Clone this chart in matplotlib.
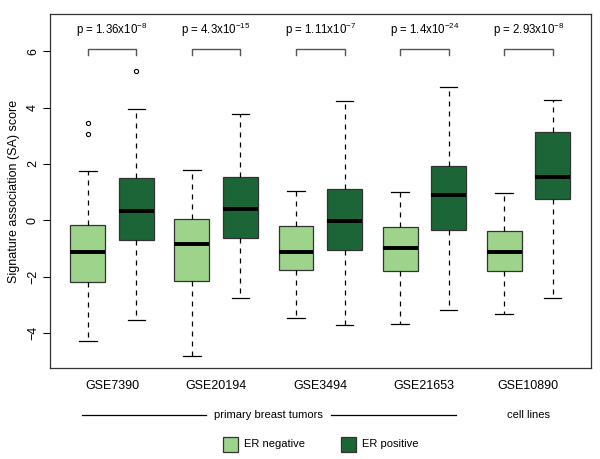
import matplotlib
matplotlib.use("Agg")
import matplotlib.pyplot as plt
from matplotlib.patches import Rectangle
from matplotlib.lines import Line2D
import matplotlib.transforms as mtransforms

plt.rcParams['font.family'] = ['Liberation Sans', 'DejaVu Sans']

datasets = ["GSE7390", "GSE20194", "GSE3494", "GSE21653", "GSE10890"]
p_mant = ["1.36", "4.3", "1.11", "1.4", "2.93"]
p_exp = ["-8", "-15", "-7", "-24", "-8"]

# ER negative stats
neg_whislo = [-4.28, -4.83, -3.48, -3.67, -3.32]
neg_q1     = [-2.20, -2.17, -1.78, -1.80, -1.81]
neg_med    = [-1.11, -0.83, -1.11, -0.97, -1.14]
neg_q3     = [-0.18, 0.06, -0.20, -0.25, -0.39]
neg_whishi = [1.75, 1.80, 1.05, 1.02, 0.98]
neg_fliers = [[3.47, 3.08], [], [], [], []]

# ER positive stats
pos_whislo = [-3.54, -2.75, -3.71, -3.19, -2.76]
pos_q1     = [-0.71, -0.64, -1.07, -0.36, 0.75]
pos_med    = [0.33, 0.40, -0.02, 0.91, 1.54]
pos_q3     = [1.51, 1.53, 1.12, 1.92, 3.14]
pos_whishi = [3.97, 3.78, 4.24, 4.75, 4.28]
pos_fliers = [[5.29], [], [], [], []]

light = "#9dd38b"
dark = "#1b6537"

fig = plt.figure(figsize=(6.0, 4.59), dpi=100)
ax = fig.add_axes([50/600, 1-368/459, (591-50)/600, (368-14)/459])

gap = 2.145
neg_pos = [1 + gap*i for i in range(5)]
pos_pos = [2 + gap*i for i in range(5)]

def mk(wl, q1, med, q3, wh, fl):
    return [dict(whislo=a, q1=b, med=c, q3=d, whishi=e, fliers=f)
            for a, b, c, d, e, f in zip(wl, q1, med, q3, wh, fl)]

common = dict(widths=0.72, patch_artist=True, showfliers=True,
              whiskerprops=dict(linestyle=(0, (4, 4)), color='black', linewidth=0.9),
              capprops=dict(color='black', linewidth=0.9),
              medianprops=dict(color='black', linewidth=2.8, solid_capstyle='butt'),
              flierprops=dict(marker='o', markersize=3, markerfacecolor='none',
                              markeredgecolor='black', markeredgewidth=0.8))
capw = 0.36

b1 = ax.bxp(mk(neg_whislo, neg_q1, neg_med, neg_q3, neg_whishi, neg_fliers),
            positions=neg_pos,
            boxprops=dict(facecolor=light, edgecolor='#333333', linewidth=0.9),
            capwidths=capw, **common)
b2 = ax.bxp(mk(pos_whislo, pos_q1, pos_med, pos_q3, pos_whishi, pos_fliers),
            positions=pos_pos,
            boxprops=dict(facecolor=dark, edgecolor='#333333', linewidth=0.9),
            capwidths=capw, **common)

ax.set_xlim(0.22, 11.37)
ax.set_ylim(-5.25, 7.33)
ax.set_yticks([-4, -2, 0, 2, 4, 6])
ax.set_yticklabels(['−4', '−2', '0', '2', '4', '6'], rotation=90, va='center', fontsize=9)
ax.tick_params(axis='y', length=5, width=0.8, pad=3)
ax.set_xticks([])
for s in ax.spines.values():
    s.set_linewidth(0.9)
    s.set_color('#333333')
ax.set_ylabel("Signature association (SA) score", fontsize=9, labelpad=5)

# p-value brackets
for i in range(5):
    x0, x1 = neg_pos[i], pos_pos[i]
    ax.plot([x0, x0, x1, x1], [5.87, 6.07, 6.07, 5.87], color='#555555', lw=1.0)
    ax.text((x0 + x1) / 2, 6.62, r"p = %s$\mathregular{x10^{%s}}$" % (p_mant[i], p_exp[i].replace('-', '−')),
            ha='center', va='baseline', fontsize=8.3)

# dataset labels
trans = mtransforms.blended_transform_factory(ax.transData, fig.transFigure)
for i in range(5):
    ax.text((neg_pos[i] + pos_pos[i]) / 2, 1 - 385.7/459, datasets[i], transform=trans,
            ha='center', va='center', fontsize=9, clip_on=False)

# group annotation
yg = 1 - 415/459
fig.add_artist(Line2D([81.7/600, 206/600], [yg, yg], color='black', lw=0.9))
fig.add_artist(Line2D([331/600, 455.7/600], [yg, yg], color='black', lw=0.9))
fig.text(268.5/600, yg, "primary breast tumors", ha='center', va='center', fontsize=8)
fig.text(528.3/600, yg, "cell lines", ha='center', va='center', fontsize=8)

# legend
yl = 1 - 444.3/459
sq_w, sq_h = 15/600, 15/459
fig.add_artist(Rectangle((222.7/600, yl - sq_h/2), sq_w, sq_h, facecolor=light,
                         edgecolor='#333333', lw=0.9, transform=fig.transFigure))
fig.text(244.3/600, yl, "ER negative", ha='left', va='center', fontsize=8)
fig.add_artist(Rectangle((340.7/600, yl - sq_h/2), sq_w, sq_h, facecolor=dark,
                         edgecolor='#333333', lw=0.9, transform=fig.transFigure))
fig.text(362.3/600, yl, "ER positive", ha='left', va='center', fontsize=8)

fig.savefig("out.png", dpi=100)
